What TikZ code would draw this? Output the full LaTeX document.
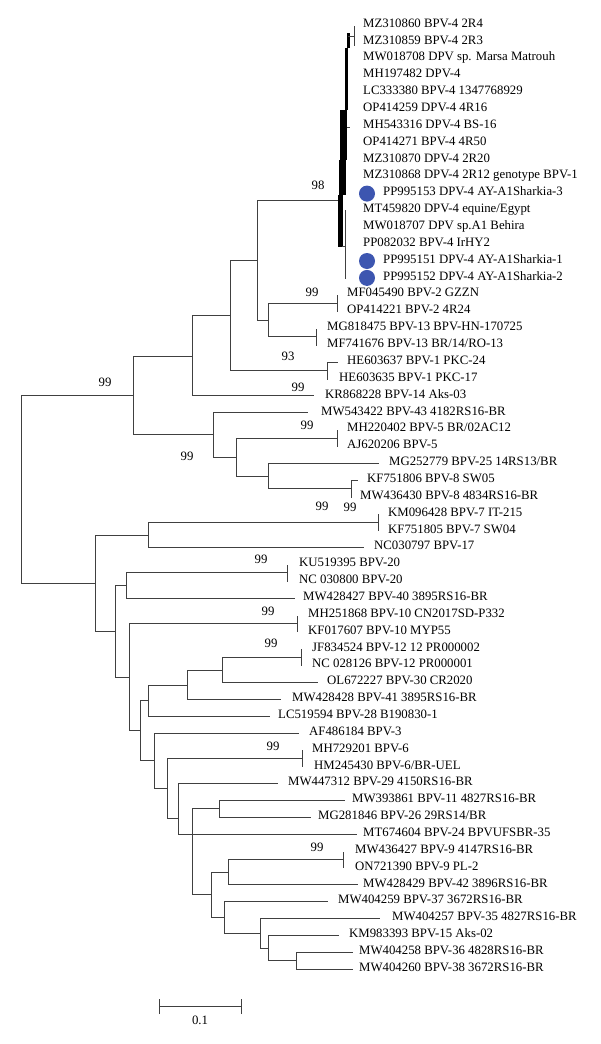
\documentclass[tikz,border=0pt]{standalone}
\usepackage{fontspec}
\setmainfont{Liberation Serif}
\definecolor{treeclr}{HTML}{404040}
\definecolor{dotblue}{HTML}{3D56B0}
\newcommand\pnt[3]{\pgfmathsetmacro\myxx{floor(#2)+0.5}\pgfmathsetmacro\myyy{floor(#3)+0.5}\coordinate (#1) at (\myxx,\myyy);}
\begin{document}
\begin{tikzpicture}[x=1pt,y=-1pt,
  edge/.style={draw=treeclr,line width=1.7pt},
  lab/.style={anchor=mid west,inner sep=0pt,font=\fontsize{12.8}{14}\selectfont},
  bs/.style={inner sep=0pt,font=\fontsize{12.8}{14}\selectfont},
  dotmark/.style={circle,fill=dotblue,minimum size=16pt,inner sep=0pt}]
\useasboundingbox[fill=white] (0,0) rectangle (600,1044);
% internal nodes
\pnt{R}{21}{489.7}
\pnt{U}{133}{395.8}
\pnt{L}{95}{583.2}
\pnt{A}{192}{356.2}
\pnt{B}{213}{434.9}
\pnt{C}{230}{315.7}
\pnt{D}{257}{260.3}
\pnt{E}{268}{320.1}
\pnt{TOP}{340}{200.5}
\pnt{P2}{337}{303.2}
\pnt{P13}{316}{336.9}
\pnt{HE}{327}{370.6}
\pnt{F}{236}{457.1}
\pnt{P5}{337}{438.0}
\pnt{G}{268}{476.0}
\pnt{P8}{351}{488.6}
\pnt{H}{148}{535.0}
\pnt{P7}{378}{522.3}
\pnt{I}{115}{631.3}
\pnt{J}{126}{585.5}
\pnt{P20}{287}{572.8}
\pnt{K}{129}{677.1}
\pnt{P10}{297}{623.4}
\pnt{M}{140}{730.7}
\pnt{N}{148}{700.6}
\pnt{Pn}{187}{685.1}
\pnt{Q}{222}{670.0}
\pnt{P12}{301}{657.2}
\pnt{O}{154}{760.8}
\pnt{S}{167}{788.6}
\pnt{P6}{302}{758.3}
\pnt{T}{178}{818.8}
\pnt{V}{192}{834.1}
\pnt{W}{219}{808.9}
\pnt{X}{211}{894.9}
\pnt{Y}{228}{872.2}
\pnt{P9}{343}{859.4}
\pnt{Z}{224}{917.6}
\pnt{AA}{260}{933.5}
\pnt{AB}{268}{948.6}
\pnt{AC}{296}{960.5}
% tips
\pnt{t16}{337}{294.7}
\pnt{t17}{337}{311.6}
\pnt{t18}{316}{328.4}
\pnt{t19}{316}{345.3}
\pnt{t20}{337}{362.1}
\pnt{t21}{327}{379.0}
\pnt{t22}{313}{395.9}
\pnt{t23}{307}{412.7}
\pnt{t24}{337}{429.6}
\pnt{t25}{337}{446.4}
\pnt{t26}{378}{463.3}
\pnt{t27}{357}{480.1}
\pnt{t28}{351}{497.0}
\pnt{t29}{378}{513.9}
\pnt{t30}{378}{530.7}
\pnt{t31}{363}{547.6}
\pnt{t32}{287}{564.4}
\pnt{t33}{287}{581.3}
\pnt{t34}{294}{598.1}
\pnt{t35}{297}{615.0}
\pnt{t36}{297}{631.9}
\pnt{t37}{301}{648.7}
\pnt{t38}{301}{665.6}
\pnt{t39}{317}{682.4}
\pnt{t40}{280}{699.3}
\pnt{t41}{269}{716.1}
\pnt{t42}{298}{733.0}
\pnt{t43}{302}{749.9}
\pnt{t44}{302}{766.7}
\pnt{t45}{277}{783.6}
\pnt{t46}{344}{800.4}
\pnt{t47}{310}{817.3}
\pnt{t48}{356}{834.1}
\pnt{t49}{343}{851.0}
\pnt{t50}{343}{867.9}
\pnt{t51}{357}{884.7}
\pnt{t52}{327}{901.6}
\pnt{t53}{379}{918.4}
\pnt{t54}{338}{935.3}
\pnt{t55}{352}{952.1}
\pnt{t56}{352}{969.0}
% edges
\foreach \p/\c in {R/U,R/L,U/A,U/B,A/C,A/t22,C/D,C/HE,D/TOP,D/E,E/P2,E/P13,
  P2/t16,P2/t17,P13/t18,P13/t19,HE/t20,HE/t21,B/t23,B/F,F/P5,F/G,P5/t24,P5/t25,
  G/t26,G/P8,P8/t27,P8/t28,L/H,L/I,H/P7,H/t31,P7/t29,P7/t30,I/J,I/K,J/P20,J/t34,
  P20/t32,P20/t33,K/P10,K/M,P10/t35,P10/t36,M/N,M/O,N/Pn,N/t41,Pn/Q,Pn/t40,
  Q/P12,Q/t39,P12/t37,P12/t38,O/t42,O/S,S/P6,S/T,P6/t43,P6/t44,T/t45,T/V,
  V/W,V/t48,V/X,W/t46,W/t47,X/Y,X/Z,Y/P9,Y/t51,P9/t49,P9/t50,Z/t52,Z/AA,
  AA/t53,AA/AB,AB/t54,AB/AC,AC/t55,AC/t56}
  \draw[edge] (\p) |- (\c);
% top clade (dense comb)
\fill[black] (338,195) rectangle (343,247);
\fill[black] (339,160) rectangle (345.5,195);
\fill[black] (340,110) rectangle (347,160);
\fill[black] (344.5,48) rectangle (347.5,110);
\fill[black] (346.5,33) rectangle (350,48);
\draw[edge] (348,36.5) -- (354.5,36.5);
\draw[edge] (354.5,26) -- (354.5,46);
\draw[edge] (342,246.5) -- (346,246.5);
\draw[edge] (345.5,210) -- (345.5,279);
\draw[edge] (347,127.5) -- (350,127.5);
% dots
\node[dotmark] (d10) at (367,193.6) {};
\node[dotmark] (d14) at (367,261.0) {};
\node[dotmark] (d15) at (367,277.9) {};
% labels
\node[lab] (n0) at (363,25.0) {MZ310860 BPV-4 2R4};
\node[lab] (n1) at (363,41.9) {MZ310859 BPV-4 2R3};
\node[lab] (n2) at (363,58.7) {MW018708 DPV sp. Marsa Matrouh};
\node[lab] (n3) at (363,75.6) {MH197482 DPV-4};
\node[lab] (n4) at (363,92.4) {LC333380 BPV-4 1347768929};
\node[lab] (n5) at (363,109.3) {OP414259 DPV-4 4R16};
\node[lab] (n6) at (363,126.1) {MH543316 DPV-4 BS-16};
\node[lab] (n7) at (363,143.0) {OP414271 BPV-4 4R50};
\node[lab] (n8) at (363,159.9) {MZ310870 DPV-4 2R20};
\node[lab] (n9) at (363,176.7) {MZ310868 DPV-4 2R12 genotype BPV-1};
\node[lab] (n10) at (383,193.6) {PP995153 DPV-4 AY-A1Sharkia-3};
\node[lab] (n11) at (363,210.4) {MT459820 DPV-4 equine/Egypt};
\node[lab] (n12) at (363,227.3) {MW018707 DPV sp.A1 Behira};
\node[lab] (n13) at (363,244.1) {PP082032 BPV-4 IrHY2};
\node[lab] (n14) at (383,261.0) {PP995151 DPV-4 AY-A1Sharkia-1};
\node[lab] (n15) at (383,277.9) {PP995152 DPV-4 AY-A1Sharkia-2};
\node[lab] (n16) at (347,294.7) {MF045490 BPV-2 GZZN};
\node[lab] (n17) at (347,311.6) {OP414221 BPV-2 4R24};
\node[lab] (n18) at (327,328.4) {MG818475 BPV-13 BPV-HN-170725};
\node[lab] (n19) at (327,345.3) {MF741676 BPV-13 BR/14/RO-13};
\node[lab] (n20) at (347,362.1) {HE603637 BPV-1 PKC-24};
\node[lab] (n21) at (339,379.0) {HE603635 BPV-1 PKC-17};
\node[lab] (n22) at (325,395.9) {KR868228 BPV-14 Aks-03};
\node[lab] (n23) at (321,412.7) {MW543422 BPV-43 4182RS16-BR};
\node[lab] (n24) at (347,429.6) {MH220402 BPV-5 BR/02AC12};
\node[lab] (n25) at (347,446.4) {AJ620206 BPV-5};
\node[lab] (n26) at (389,463.3) {MG252779 BPV-25 14RS13/BR};
\node[lab] (n27) at (367,480.1) {KF751806 BPV-8 SW05};
\node[lab] (n28) at (360,497.0) {MW436430 BPV-8 4834RS16-BR};
\node[lab] (n29) at (388,513.9) {KM096428 BPV-7 IT-215};
\node[lab] (n30) at (388,530.7) {KF751805 BPV-7 SW04};
\node[lab] (n31) at (374,547.6) {NC030797 BPV-17};
\node[lab] (n32) at (299,564.4) {KU519395 BPV-20};
\node[lab] (n33) at (299,581.3) {NC 030800 BPV-20};
\node[lab] (n34) at (303,598.1) {MW428427 BPV-40 3895RS16-BR};
\node[lab] (n35) at (308,615.0) {MH251868 BPV-10 CN2017SD-P332};
\node[lab] (n36) at (308,631.9) {KF017607 BPV-10 MYP55};
\node[lab] (n37) at (312,648.7) {JF834524 BPV-12 12 PR000002};
\node[lab] (n38) at (312,665.6) {NC 028126 BPV-12 PR000001};
\node[lab] (n39) at (327,682.4) {OL672227 BPV-30 CR2020};
\node[lab] (n40) at (292,699.3) {MW428428 BPV-41 3895RS16-BR};
\node[lab] (n41) at (278,716.1) {LC519594 BPV-28 B190830-1};
\node[lab] (n42) at (309,733.0) {AF486184 BPV-3};
\node[lab] (n43) at (312,749.9) {MH729201 BPV-6};
\node[lab] (n44) at (314,766.7) {HM245430 BPV-6/BR-UEL};
\node[lab] (n45) at (288,783.6) {MW447312 BPV-29 4150RS16-BR};
\node[lab] (n46) at (352,800.4) {MW393861 BPV-11 4827RS16-BR};
\node[lab] (n47) at (318,817.3) {MG281846 BPV-26 29RS14/BR};
\node[lab] (n48) at (363,834.1) {MT674604 BPV-24 BPVUFSBR-35};
\node[lab] (n49) at (355,851.0) {MW436427 BPV-9 4147RS16-BR};
\node[lab] (n50) at (355,867.9) {ON721390 BPV-9 PL-2};
\node[lab] (n51) at (363,884.7) {MW428429 BPV-42 3896RS16-BR};
\node[lab] (n52) at (338,901.6) {MW404259 BPV-37 3672RS16-BR};
\node[lab] (n53) at (392,918.4) {MW404257 BPV-35 4827RS16-BR};
\node[lab] (n54) at (349,935.3) {KM983393 BPV-15 Aks-02};
\node[lab] (n55) at (359,952.1) {MW404258 BPV-36 4828RS16-BR};
\node[lab] (n56) at (359,969.0) {MW404260 BPV-38 3672RS16-BR};
% bootstrap values
\node[bs] (b1) at (318,185) {98};
\node[bs] (b2) at (312,292) {99};
\node[bs] (b3) at (288,356) {93};
\node[bs] (b4) at (298,387) {99};
\node[bs] (b5) at (105,382) {99};
\node[bs] (b6) at (307,425) {99};
\node[bs] (b7) at (187,456) {99};
\node[bs] (b8) at (322,506) {99};
\node[bs] (b9) at (350,507) {99};
\node[bs] (b10) at (261,559) {99};
\node[bs] (b11) at (268,611) {99};
\node[bs] (b12) at (271,643) {99};
\node[bs] (b13) at (273,746) {99};
\node[bs] (b14) at (317,847) {99};
% scale bar
\pnt{sb1}{159}{1006}
\pnt{sb2}{241}{1006}
\draw[edge] (sb1) -- (sb2);
\draw[edge] ([yshift=-7.5pt]sb1) -- ([yshift=7.5pt]sb1);
\draw[edge] ([yshift=-7.5pt]sb2) -- ([yshift=7.5pt]sb2);
\node[bs] (sbl) at (200,1020) {0.1};
\end{tikzpicture}
\end{document}
